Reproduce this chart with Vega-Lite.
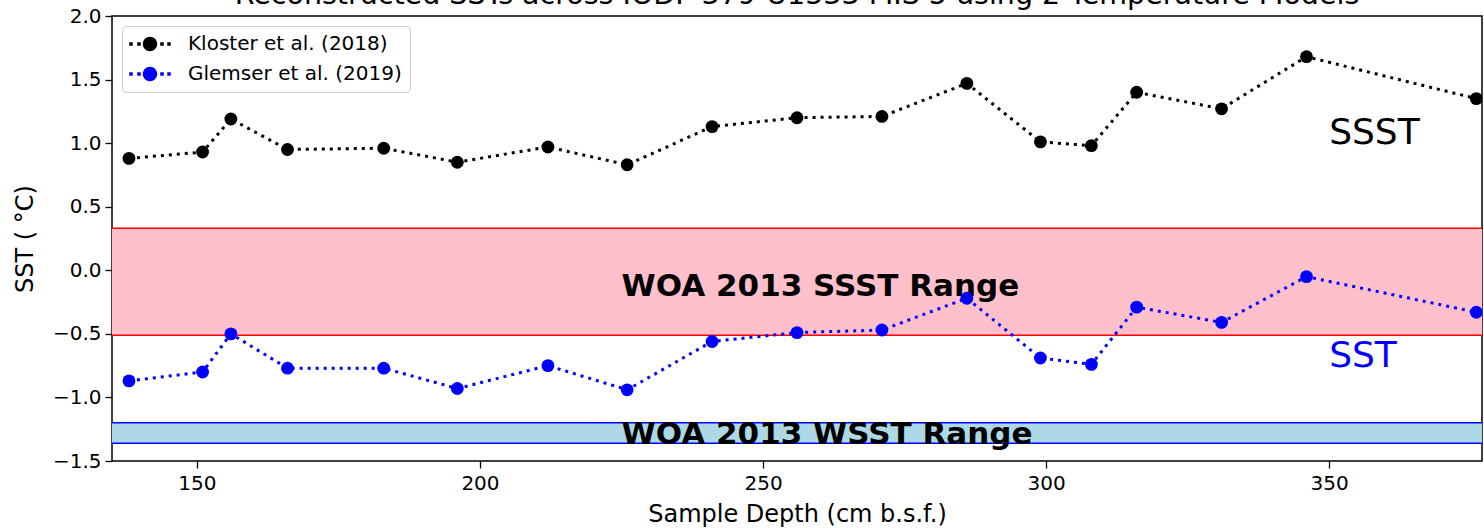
{
  "$schema": "https://vega.github.io/schema/vega-lite/v6.json",
  "width": 1370,
  "height": 445,
  "autosize": {"type": "none"},
  "padding": {"left": 112, "top": 16, "right": 2, "bottom": 67},
  "background": "white",
  "title": {
    "text": "Reconstructed SSTs across IODP 379-U1533 MIS 5 using 2 Temperature Models",
    "fontSize": 28.5,
    "font": "DejaVu Sans",
    "fontWeight": "normal",
    "color": "black",
    "offset": -3,
    "anchor": "middle"
  },
  "config": {
    "font": "DejaVu Sans",
    "view": {"stroke": "black", "strokeWidth": 1.5},
    "axis": {
      "grid": false,
      "domain": false,
      "tickColor": "black",
      "tickWidth": 1.3,
      "tickSize": 7,
      "labelFont": "DejaVu Sans",
      "labelFontSize": 20,
      "labelColor": "black",
      "titleFont": "DejaVu Sans",
      "titleFontSize": 24,
      "titleFontWeight": "normal",
      "titleColor": "black"
    },
    "legend": {
      "title": null,
      "orient": "none",
      "legendX": 10,
      "legendY": 10,
      "padding": 8,
      "fillColor": "rgba(255,255,255,0.8)",
      "strokeColor": "#cccccc",
      "cornerRadius": 4,
      "symbolType": "M -2.075 -0.175 h 0.35 v 0.35 h -0.35 Z M -1.275 -0.175 h 0.35 v 0.35 h -0.35 Z M 1.025 -0.175 h 0.35 v 0.35 h -0.35 Z M 1.725 -0.175 h 0.35 v 0.35 h -0.35 Z M -0.72 0 A 0.72 0.72 0 1 0 0.72 0 A 0.72 0.72 0 1 0 -0.72 0 Z",
      "symbolSize": 400,
      "symbolStrokeWidth": 0,
      "symbolOffset": 10,
      "labelOffset": 28,
      "labelFont": "DejaVu Sans",
      "labelFontSize": 20,
      "labelColor": "black",
      "rowPadding": 10,
      "labelLimit": 400
    }
  },
  "datasets": {
    "series": [
      {"depth": 138, "sst": 0.88, "model": "Kloster et al. (2018)"},
      {"depth": 151, "sst": 0.93, "model": "Kloster et al. (2018)"},
      {"depth": 156, "sst": 1.19, "model": "Kloster et al. (2018)"},
      {"depth": 166, "sst": 0.95, "model": "Kloster et al. (2018)"},
      {"depth": 183, "sst": 0.96, "model": "Kloster et al. (2018)"},
      {"depth": 196, "sst": 0.85, "model": "Kloster et al. (2018)"},
      {"depth": 212, "sst": 0.97, "model": "Kloster et al. (2018)"},
      {"depth": 226, "sst": 0.83, "model": "Kloster et al. (2018)"},
      {"depth": 241, "sst": 1.13, "model": "Kloster et al. (2018)"},
      {"depth": 256, "sst": 1.20, "model": "Kloster et al. (2018)"},
      {"depth": 271, "sst": 1.21, "model": "Kloster et al. (2018)"},
      {"depth": 286, "sst": 1.47, "model": "Kloster et al. (2018)"},
      {"depth": 299, "sst": 1.01, "model": "Kloster et al. (2018)"},
      {"depth": 308, "sst": 0.98, "model": "Kloster et al. (2018)"},
      {"depth": 316, "sst": 1.40, "model": "Kloster et al. (2018)"},
      {"depth": 331, "sst": 1.27, "model": "Kloster et al. (2018)"},
      {"depth": 346, "sst": 1.68, "model": "Kloster et al. (2018)"},
      {"depth": 376, "sst": 1.35, "model": "Kloster et al. (2018)"},
      {"depth": 138, "sst": -0.87, "model": "Glemser et al. (2019)"},
      {"depth": 151, "sst": -0.80, "model": "Glemser et al. (2019)"},
      {"depth": 156, "sst": -0.50, "model": "Glemser et al. (2019)"},
      {"depth": 166, "sst": -0.77, "model": "Glemser et al. (2019)"},
      {"depth": 183, "sst": -0.77, "model": "Glemser et al. (2019)"},
      {"depth": 196, "sst": -0.93, "model": "Glemser et al. (2019)"},
      {"depth": 212, "sst": -0.75, "model": "Glemser et al. (2019)"},
      {"depth": 226, "sst": -0.94, "model": "Glemser et al. (2019)"},
      {"depth": 241, "sst": -0.56, "model": "Glemser et al. (2019)"},
      {"depth": 256, "sst": -0.49, "model": "Glemser et al. (2019)"},
      {"depth": 271, "sst": -0.47, "model": "Glemser et al. (2019)"},
      {"depth": 286, "sst": -0.22, "model": "Glemser et al. (2019)"},
      {"depth": 299, "sst": -0.69, "model": "Glemser et al. (2019)"},
      {"depth": 308, "sst": -0.74, "model": "Glemser et al. (2019)"},
      {"depth": 316, "sst": -0.29, "model": "Glemser et al. (2019)"},
      {"depth": 331, "sst": -0.41, "model": "Glemser et al. (2019)"},
      {"depth": 346, "sst": -0.05, "model": "Glemser et al. (2019)"},
      {"depth": 376, "sst": -0.33, "model": "Glemser et al. (2019)"}
    ],
    "bands": [
      {"lo": -0.51, "hi": 0.33, "kind": "SSST"},
      {"lo": -1.36, "hi": -1.20, "kind": "WSST"}
    ],
    "edges": [
      {"v": 0.33, "kind": "SSST"},
      {"v": -0.51, "kind": "SSST"},
      {"v": -1.20, "kind": "WSST"},
      {"v": -1.36, "kind": "WSST"}
    ],
    "labels": [
      {"depth": 225, "sst": -0.2, "label": "WOA 2013 SSST Range"},
      {"depth": 225, "sst": -1.37, "label": "WOA 2013 WSST Range"}
    ],
    "tags": [
      {"depth": 350, "sst": 0.99, "label": "SSST", "kind": "SSST"},
      {"depth": 350, "sst": -0.76, "label": "SST", "kind": "SST"}
    ]
  },
  "encoding": {
    "x": {
      "field": "depth",
      "type": "quantitative",
      "scale": {"domain": [135, 377], "nice": false, "zero": false},
      "axis": {"title": "Sample Depth (cm b.s.f.)", "values": [150, 200, 250, 300, 350], "labelPadding": 5, "titlePadding": 9}
    },
    "y": {
      "field": "sst",
      "type": "quantitative",
      "scale": {"domain": [-1.5, 2.0], "nice": false, "zero": false},
      "axis": {"title": "SST ( °C)", "values": [-1.5, -1.0, -0.5, 0.0, 0.5, 1.0, 1.5, 2.0], "format": ".1f", "labelPadding": 4, "titlePadding": 15}
    }
  },
  "layer": [
    {
      "data": {"name": "bands"},
      "mark": {"type": "rect"},
      "encoding": {
        "x": null,
        "y": {"field": "lo", "type": "quantitative"},
        "y2": {"field": "hi"},
        "fill": {"field": "kind", "type": "nominal", "scale": {"domain": ["SSST", "WSST"], "range": ["#ffc0cb", "#add8e6"]}, "legend": null}
      }
    },
    {
      "data": {"name": "edges"},
      "mark": {"type": "rule", "strokeWidth": 1.5},
      "encoding": {
        "x": null,
        "y": {"field": "v", "type": "quantitative"},
        "stroke": {"field": "kind", "type": "nominal", "scale": {"domain": ["SSST", "WSST"], "range": ["#ff0000", "#0000ff"]}, "legend": null}
      }
    },
    {
      "data": {"name": "labels"},
      "mark": {"type": "text", "align": "left", "baseline": "alphabetic", "fontSize": 31, "fontWeight": "bold", "font": "DejaVu Sans", "color": "black"},
      "encoding": {"text": {"field": "label"}}
    },
    {
      "data": {"name": "tags"},
      "transform": [{"filter": "datum.kind === 'SSST'"}],
      "mark": {"type": "text", "align": "left", "baseline": "alphabetic", "fontSize": 36, "font": "DejaVu Sans", "color": "#000000"},
      "encoding": {"text": {"field": "label"}}
    },
    {
      "data": {"name": "tags"},
      "transform": [{"filter": "datum.kind === 'SST'"}],
      "mark": {"type": "text", "align": "left", "baseline": "alphabetic", "fontSize": 36, "font": "DejaVu Sans", "color": "#0000ff"},
      "encoding": {"text": {"field": "label"}}
    },
    {
      "data": {"name": "series"},
      "mark": {"type": "line", "strokeDash": [3, 5], "strokeWidth": 3, "strokeCap": "butt", "clip": true},
      "encoding": {
        "color": {"field": "model", "type": "nominal", "scale": {"domain": ["Kloster et al. (2018)", "Glemser et al. (2019)"], "range": ["#000000", "#0000ff"]}}
      }
    },
    {
      "data": {"name": "series"},
      "mark": {"type": "point", "filled": true, "opacity": 1, "size": 165, "shape": "circle", "clip": true},
      "encoding": {
        "color": {"field": "model", "type": "nominal", "scale": {"domain": ["Kloster et al. (2018)", "Glemser et al. (2019)"], "range": ["#000000", "#0000ff"]}}
      }
    }
  ]
}
